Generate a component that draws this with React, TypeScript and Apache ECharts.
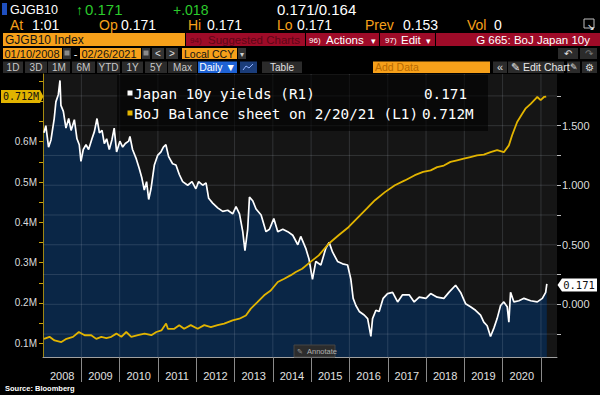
import React, { useEffect, useRef } from "react";
import * as echarts from "echarts";

const yieldDates = [
  "2008-01-10","2008-01-28","2008-02-23","2008-03-17","2008-04-17","2008-05-03","2008-05-26","2008-06-11","2008-06-20","2008-07-13","2008-08-07","2008-09-02","2008-09-25","2008-10-26","2008-11-20","2008-12-12","2008-12-28",
  "2009-01-19","2009-02-14","2009-03-11","2009-04-12","2009-05-05","2009-05-30","2009-06-22","2009-07-17","2009-08-08","2009-08-30","2009-09-24","2009-10-19","2009-11-10","2009-12-03",
  "2010-01-03","2010-01-30","2010-02-24","2010-03-28","2010-04-09","2010-05-04","2010-06-05","2010-07-07","2010-08-01","2010-08-24","2010-09-15","2010-10-05","2010-10-27","2010-11-28","2010-12-29",
  "2011-01-30","2011-02-22","2011-03-18","2011-04-13","2011-05-21","2011-06-22","2011-07-24","2011-08-25","2011-10-12","2011-11-22","2011-12-29",
  "2012-01-24","2012-03-03","2012-04-04","2012-04-29","2012-06-06","2012-07-24","2012-09-10","2012-10-28","2012-12-14",
  "2013-01-15","2013-02-17","2013-03-20","2013-04-10","2013-05-06","2013-05-23","2013-06-23","2013-07-25","2013-09-11","2013-10-28","2013-11-30",
  "2014-01-10","2014-02-17","2014-04-06","2014-05-23","2014-07-10","2014-08-27","2014-09-24","2014-11-11","2014-12-12",
  "2015-01-14","2015-02-15","2015-04-04","2015-05-21","2015-06-22","2015-07-24","2015-09-10","2015-10-28","2015-12-15",
  "2016-01-15","2016-02-06","2016-03-03","2016-04-04","2016-05-21","2016-06-23","2016-07-24","2016-08-09","2016-09-10","2016-10-11","2016-11-18","2016-12-30",
  "2017-02-16","2017-04-05","2017-05-22","2017-07-24","2017-09-10","2017-10-28","2017-12-31",
  "2018-02-14","2018-04-17","2018-06-20","2018-08-07","2018-10-10","2018-11-27",
  "2019-01-13","2019-03-01","2019-04-18","2019-06-05","2019-07-06","2019-08-07","2019-09-08","2019-10-10","2019-11-10","2019-12-13",
  "2020-01-13","2020-02-14","2020-03-01","2020-03-17","2020-04-18","2020-06-05","2020-07-23","2020-09-25","2020-11-27",
  "2021-01-14","2021-02-15","2021-02-26"
];
const yieldValues = [
  1.44,1.50,1.32,1.38,1.56,1.70,1.76,1.88,1.67,1.62,1.48,1.56,1.46,1.55,1.39,1.34,1.20,
  1.30,1.34,1.30,1.39,1.45,1.56,1.44,1.46,1.35,1.39,1.30,1.38,1.48,1.28,
  1.37,1.32,1.35,1.37,1.41,1.30,1.23,1.14,1.06,0.96,1.03,0.88,0.97,1.17,1.25,
  1.28,1.32,1.34,1.24,1.18,1.17,1.09,1.03,1.00,1.03,0.97,
  1.03,1.00,1.02,0.89,0.85,0.81,0.78,0.79,0.76,
  0.82,0.76,0.61,0.45,0.63,0.90,0.87,0.80,0.75,0.61,0.63,
  0.72,0.61,0.63,0.61,0.58,0.50,0.57,0.47,0.38,
  0.21,0.36,0.33,0.47,0.52,0.44,0.36,0.34,0.33,
  0.21,0.05,-0.01,-0.06,-0.09,-0.12,-0.27,-0.12,-0.05,-0.06,0.05,0.09,
  0.10,0.02,0.08,0.08,0.02,0.06,0.05,
  0.09,0.06,0.05,0.10,0.16,0.10,
  0.005,-0.02,-0.05,-0.09,-0.15,-0.18,-0.27,-0.20,-0.12,-0.01,
  0.02,-0.02,-0.15,0.10,0.02,0.03,0.05,0.03,0.02,
  0.05,0.10,0.171
];

const bojDates = [
  "2008-01-10","2008-03-03","2008-04-20","2008-06-24","2008-08-12","2008-10-13","2008-12-08",
  "2009-02-01","2009-04-05","2009-05-23","2009-07-10","2009-08-27","2009-10-13","2009-12-01",
  "2010-01-17","2010-03-05","2010-04-22","2010-06-24","2010-08-27","2010-10-30","2010-12-17",
  "2011-02-03","2011-03-20","2011-04-06","2011-06-06","2011-07-23","2011-09-08","2011-11-10",
  "2012-01-15","2012-03-18","2012-05-20","2012-07-23","2012-09-24","2012-12-13",
  "2013-02-16","2013-04-19","2013-06-05","2013-08-07","2013-10-10","2013-12-12",
  "2014-02-17","2014-04-20","2014-06-22","2014-08-08","2014-10-08","2014-12-26",
  "2015-03-15","2015-06-17","2015-09-20","2015-12-23",
  "2016-03-26","2016-06-14","2016-09-01","2016-12-05",
  "2017-03-10","2017-06-13","2017-09-16","2017-12-04",
  "2018-02-14","2018-04-17","2018-06-20","2018-08-22","2018-10-24","2018-12-27",
  "2019-02-28","2019-05-02","2019-07-06","2019-09-08","2019-11-10",
  "2020-01-13","2020-03-01","2020-04-01","2020-05-19","2020-07-05","2020-08-06","2020-09-25","2020-11-12","2020-11-27","2020-12-29",
  "2021-01-30","2021-02-20"
];
const bojValues = [
  0.111,0.116,0.107,0.103,0.111,0.116,0.128,
  0.120,0.120,0.111,0.116,0.113,0.116,0.124,
  0.116,0.128,0.116,0.120,0.124,0.120,0.128,
  0.132,0.149,0.136,0.136,0.145,0.136,0.145,
  0.136,0.145,0.140,0.145,0.149,0.157,
  0.161,0.169,0.186,0.202,0.219,0.231,
  0.252,0.260,0.269,0.277,0.285,0.302,
  0.318,0.347,0.368,0.388,
  0.413,0.434,0.455,0.475,
  0.492,0.504,0.517,0.525,
  0.529,0.537,0.541,0.550,0.554,0.558,
  0.562,0.566,0.568,0.574,0.579,
  0.574,0.591,0.616,0.649,0.669,0.682,0.694,0.707,0.711,0.703,
  0.711,0.712
];

const yearLabels = ["2008","2009","2010","2011","2012","2013","2014","2015","2016","2017","2018","2019","2020"];
const leftAxisLabels = [0.1, 0.2, 0.3, 0.4, 0.5, 0.6];
const leftAxisTicks = [0.1, 0.15, 0.2, 0.25, 0.3, 0.35, 0.4, 0.45, 0.5, 0.55, 0.6, 0.65, 0.7, 0.75];
const rightAxisLabels = [0, 0.5, 1.0, 1.5];
const rightAxisTicks = [-0.25, 0, 0.25, 0.5, 0.75, 1.0, 1.25, 1.5, 1.75];
const lastYield = "0.171";
const lastBoj = "0.712M";

const SANS = '"Liberation Sans", Arial, sans-serif';
const MONO = '"DejaVu Sans Mono", monospace';

const ORANGE = "#f6a01a";
const RED = "#9e0b28";
const GREEN = "#2ccb2c";
const YELLOW = "#e2b400";

const X_MIN = Date.UTC(2008, 0, 1);
const X_MAX = Date.UTC(2021, 5, 3);
const R_MIN = -0.4425;
const R_MAX = 1.934;

function T(text: string, x: number, y: number, fill: string, font: string, align = "left", z = 100) {
  return { type: "text", x, y, z, silent: true, style: { text, fill, font, textAlign: align, verticalAlign: "middle" } };
}
function R(x: number, y: number, w: number, h: number, fill: string, z = 95, extra: any = {}) {
  return { type: "rect", z, silent: true, shape: { x, y, width: w, height: h }, style: { fill, ...extra } };
}

export default function App() {
  const ref = useRef<HTMLDivElement>(null);
  useEffect(() => {
    document.body.style.margin = "0";
    document.body.style.background = "#000";
    const chart = echarts.init(ref.current!, undefined, { renderer: "svg" });

    const ts = (d: string) => Date.parse(d + "T00:00:00Z");
    const yearStarts = yearLabels.slice(1).map((y) => Date.UTC(+y, 0, 1)).concat([Date.UTC(2021, 0, 1)]);
    const midYears = yearLabels.map((y) => Date.UTC(+y, 6, 2));

    const f = (s: number, w = "") => `${w ? w + " " : ""}${s}px ${SANS}`;
    const m = (s: number) => `${s}px ${MONO}`;

    const btn = (x: number, w: number, label: string, fill = "#2b2b2b", color = "#c8c8c8") => [
      R(x, 61.5, w, 11.5, fill),
      T(label, x + w / 2, 67.3, color, f(10), "center"),
    ];

    const graphic: any[] = [
      R(2, 3, 5, 12, "#1f4fbf"),
      T("GJGB10", 10, 9.5, "#ffffff", f(12.5)),
      T("\u2191", 76, 9.5, GREEN, f(14)),
      T("0.171", 85, 9.5, GREEN, f(15)),
      T("+.018", 173, 9.5, GREEN, f(14)),
      T("0.171/0.164", 277, 9.5, "#ffffff", f(15)),
      T("At", 10, 25, ORANGE, f(14)),
      T("1:01", 32, 25, "#ffffff", f(14)),
      T("Op", 99, 25, ORANGE, f(14)),
      T("0.171", 121, 25, "#ffffff", f(14)),
      T("Hi", 188, 25, ORANGE, f(14)),
      T("0.171", 207, 25, "#ffffff", f(14)),
      T("Lo", 277, 25, ORANGE, f(14)),
      T("0.171", 297, 25, "#ffffff", f(14)),
      T("Prev", 365, 25, ORANGE, f(14)),
      T("0.153", 403, 25, "#ffffff", f(14)),
      T("Vol", 467, 25, ORANGE, f(14)),
      T("0", 494, 25, "#ffffff", f(14)),
      R(584, 19, 10, 9, "none", 100, { stroke: "#bfbfbf", lineWidth: 1 }),
      T("\u2198", 591, 27, "#ffffff", f(9), "center"),
      R(3, 33, 182, 13, ORANGE),
      T("GJGB10 Index", 5, 40, "#141414", f(12)),
      R(186, 33, 414, 13, RED),
      R(305, 33, 1, 13, "#000", 96),
      R(379, 33, 1, 13, "#000", 96),
      R(435, 33, 1, 13, "#000", 96),
      T("94)", 190, 40, "#5c0616", f(8)),
      T("Suggested Charts", 208, 40, "#5c0616", f(11.5)),
      T("96)", 309, 40, "#ffffff", f(8)),
      T("Actions", 326, 40, "#ffffff", f(11.5)),
      T("\u25BE", 371, 40.5, "#ffffff", f(9)),
      T("97)", 385, 40, "#ffffff", f(8)),
      T("Edit", 401, 40, "#ffffff", f(11.5)),
      T("\u25BE", 426, 40.5, "#ffffff", f(9)),
      T("G 665: BoJ Japan 10y", 590, 40, "#ffffff", f(11.5), "right"),
      R(3, 48, 59, 11, ORANGE),
      T("01/10/2008", 4.5, 53.7, "#141414", f(11)),
      R(63, 48, 8, 11, "#333333"),
      R(64.5, 50.5, 5, 5, "#8a8a8a"),
      T("-", 75.5, 53.5, "#ffffff", f(11), "center"),
      R(80, 48, 61, 11, ORANGE),
      T("02/26/2021", 81.5, 53.7, "#141414", f(11)),
      R(142, 48, 8, 11, "#333333"),
      R(143.5, 50.5, 5, 5, "#8a8a8a"),
      R(152, 48, 12, 11, "#333333"),
      T("<", 158, 53.5, "#e0e0e0", f(10), "center"),
      R(166, 48, 12, 11, "#333333"),
      T(">", 172, 53.5, "#e0e0e0", f(10), "center"),
      R(182, 48, 55, 11, ORANGE),
      T("Local CCY", 184, 53.7, "#141414", f(10.5)),
      R(238, 48, 8, 11, "#333333"),
      T("\u25BE", 242, 54, "#cfcfcf", f(8), "center"),
      R(558, 48, 20, 11, "#2b2b2b"),
      T("\u21B6", 568, 53.5, "#e0e0e0", f(10), "center"),
      R(580, 48, 17, 11, "#2b2b2b"),
      T("\u21B7", 588.5, 53.5, "#777777", f(10), "center"),
      ...btn(3, 20, "1D"),
      ...btn(25, 22, "3D"),
      ...btn(48, 22, "1M"),
      ...btn(72, 23, "6M"),
      ...btn(97, 23, "YTD"),
      ...btn(122, 21, "1Y"),
      ...btn(145, 22, "5Y"),
      ...btn(168, 29, "Max"),
      R(198, 61.5, 39, 11.5, "#1e62d4"),
      T("Daily \u25BC", 217.5, 67.3, "#ffffff", f(10.5), "center"),
      R(240, 61.5, 17, 11.5, "#1b3d7a"),
      { type: "polyline", z: 101, silent: true, shape: { points: [[243, 70], [246, 66], [249, 68], [253, 64]] }, style: { stroke: "#8fb0ff", lineWidth: 1, fill: "none" } },
      ...btn(262, 40, "Table", "#2b2b2b", "#e0e0e0"),
      R(373, 61.5, 117, 11.5, ORANGE),
      T("Add Data", 375, 67.3, "#b86a00", f(10.5)),
      R(493, 61.5, 14, 11.5, "#2b2b2b"),
      T("\u00AB", 500, 67, "#e0e0e0", f(11), "center"),
      R(508, 61.5, 56, 11.5, "#2b2b2b"),
      T("\u270E Edit Chart", 511, 67.3, "#e8e8e8", f(10.5)),
      R(567, 61.5, 13, 11.5, "#2b2b2b"),
      T("\u270E", 573.5, 67.3, "#e0e0e0", f(9), "center"),
      R(582, 61.5, 15, 11.5, "#2b2b2b"),
      T("\u2699", 589.5, 67.3, "#e0e0e0", f(10), "center"),
      R(117, 75, 371, 56, "rgba(0,0,0,0.6)", 90),
      R(127.5, 90.5, 5, 5, "#ffffff", 100),
      T("Japan 10y yields (R1)", 134, 93.5, "#ffffff", m(14.3)),
      T(lastYield, 424, 93.5, "#ffffff", m(14.3)),
      R(127.5, 110.5, 5, 5, YELLOW, 100),
      T("BoJ Balance sheet on 2/20/21 (L1)", 134, 113.5, "#ffffff", m(14.3)),
      T(lastBoj, 422, 113.5, "#ffffff", m(14.3)),
      { type: "polygon", z: 100, silent: true, shape: { points: [[1, 90], [40, 90], [43.5, 96.5], [40, 103], [1, 103]] }, style: { fill: YELLOW } },
      T(lastBoj, 21, 96.8, "#111111", m(10), "center", 101),
      { type: "polygon", z: 100, silent: true, shape: { points: [[557.5, 285], [562, 278.5], [597, 278.5], [597, 291.5], [562, 291.5]] }, style: { fill: "#ffffff" } },
      T(lastYield, 579, 285.3, "#111111", m(10.5), "center", 101),
      R(294, 345, 41, 12, "#2c2c2c", 92, { stroke: "#444", lineWidth: 1 }),
      T("\u270E", 300, 351, "#9a9a9a", f(7), "center", 101),
      T("Annotate", 307, 351.2, "#b0b0b0", f(7.5), "left", 101),
      T("Source: Bloomberg", 5, 388.5, "#ffffff", f(7.5, "bold")),
    ];

    const gridStyle = { type: "solid", color: "rgba(190,200,215,0.17)", width: 1 };
    const gridSeries: any[] = [
      ...rightAxisTicks.map((v) => ({
        type: "line",
        yAxisIndex: 1,
        data: [[X_MIN, v], [X_MAX, v]],
        symbol: "none",
        silent: true,
        lineStyle: gridStyle,
        z: 3,
      })),
      ...yearStarts.map((t) => ({
        type: "line",
        yAxisIndex: 1,
        data: [[t, R_MIN], [t, R_MAX]],
        symbol: "none",
        silent: true,
        lineStyle: gridStyle,
        z: 3,
      })),
    ];

    chart.setOption({
      animation: false,
      backgroundColor: "#000000",
      grid: { left: 43, right: 43, top: 74, bottom: 38, show: true, backgroundColor: "#151515", borderWidth: 0 },
      xAxis: {
        type: "value",
        min: X_MIN,
        max: X_MAX,
        axisLine: { show: true, onZero: false, lineStyle: { color: "#a0a0a0", width: 1 } },
        axisTick: { show: true, customValues: yearStarts, length: 25, lineStyle: { color: "#8a8a8a" } },
        axisLabel: {
          customValues: midYears,
          formatter: (v: number) => String(new Date(v).getUTCFullYear()),
          color: "#e0e0e0",
          fontSize: 11,
          fontFamily: SANS,
          margin: 13,
        },
        splitLine: { show: false },
      },
      yAxis: [
        {
          type: "value",
          position: "left",
          min: 0.066,
          max: 0.768,
          axisLine: { show: true, onZero: false, lineStyle: { color: "#a88c10", width: 1 } },
          axisTick: { show: true, customValues: leftAxisTicks, length: 4, lineStyle: { color: "#c9a30c" } },
          axisLabel: {
            customValues: leftAxisLabels,
            formatter: (v: number) => v.toFixed(1) + "M",
            color: "#dcdcdc",
            fontSize: 10,
            fontFamily: SANS,
            margin: 6,
          },
          splitLine: { show: false },
        },
        {
          type: "value",
          position: "right",
          min: R_MIN,
          max: R_MAX,
          axisLine: { show: false, onZero: false },
          axisTick: { show: true, customValues: rightAxisTicks, length: 4, lineStyle: { color: "#bdbdbd" } },
          axisLabel: {
            customValues: rightAxisLabels,
            formatter: (v: number) => v.toFixed(3),
            color: "#dcdcdc",
            fontSize: 11,
            fontFamily: SANS,
            margin: 5,
          },
          splitLine: { show: false },
        },
      ],
      series: [
        {
          name: "Japan 10y yields (R1)",
          type: "line",
          yAxisIndex: 1,
          data: yieldDates.map((d, i) => [ts(d), yieldValues[i]]),
          symbol: "none",
          showSymbol: false,
          lineStyle: { color: "#ffffff", width: 1.7 },
          areaStyle: { color: "#0a2646", opacity: 1, origin: "start" },
          z: 2,
        },
        ...gridSeries,
        {
          name: "BoJ Balance sheet",
          type: "line",
          yAxisIndex: 0,
          data: bojDates.map((d, i) => [ts(d), bojValues[i]]),
          symbol: "none",
          showSymbol: false,
          lineStyle: { color: YELLOW, width: 1.8 },
          z: 6,
        },
      ],
      graphic,
    });
    return () => chart.dispose();
  }, []);
  return <div ref={ref} style={{ position: "absolute", left: 0, top: 0, width: 600, height: 395, background: "#000" }} />;
}
